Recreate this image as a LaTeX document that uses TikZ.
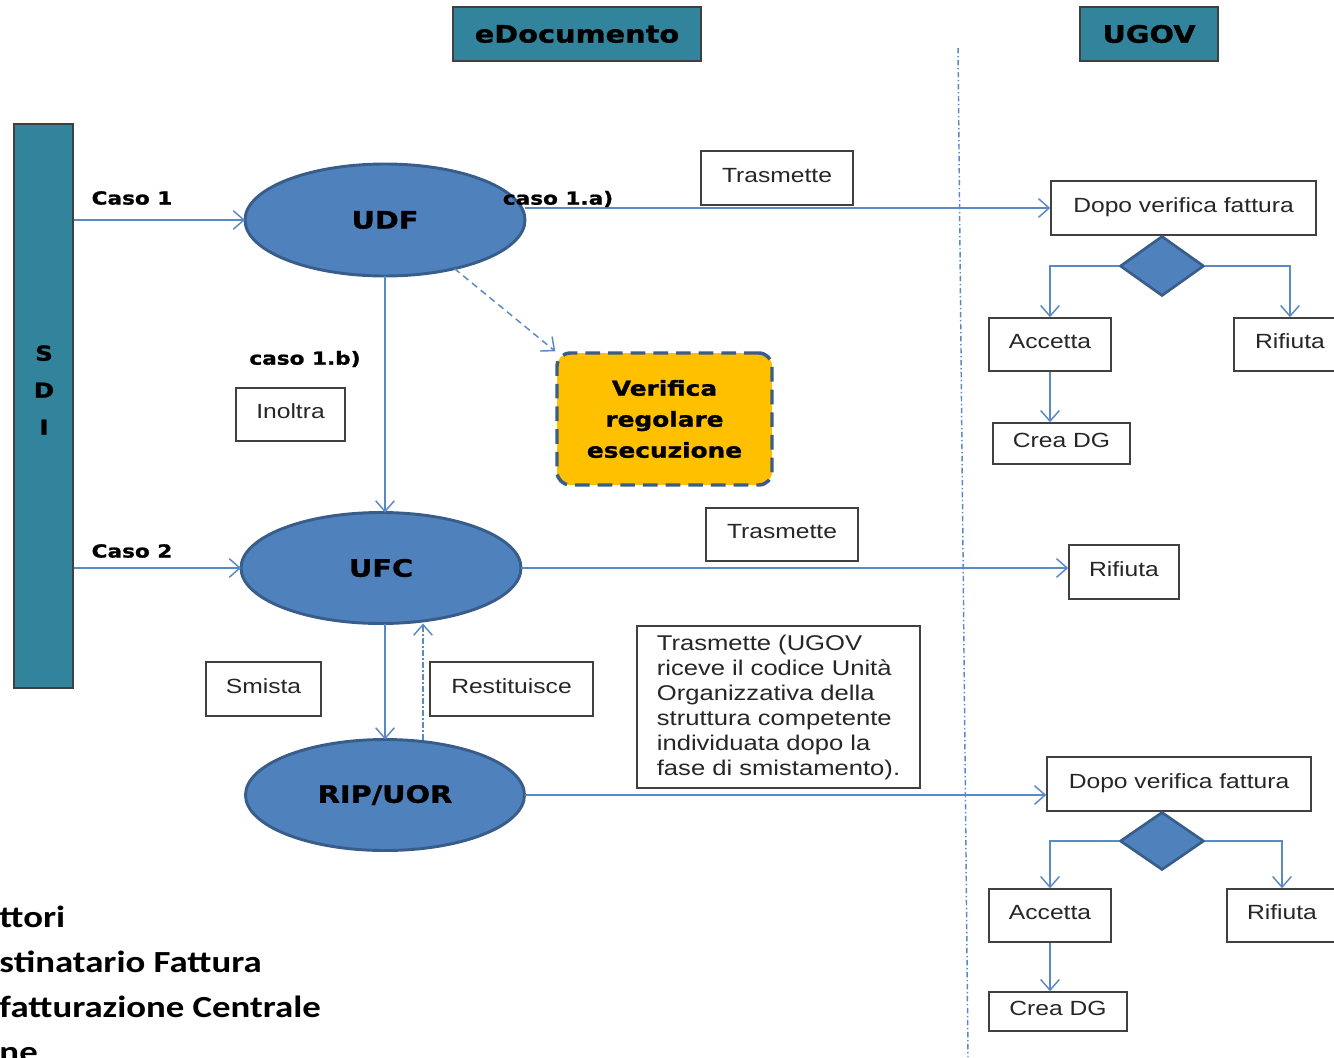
\documentclass[tikz,border=0pt]{standalone}
\usepackage{fontspec}
\setmainfont{Liberation Sans}[FakeStretch=1.2]
\newfontfamily\heavyfont{DejaVu Sans}[FakeStretch=1.2, BoldFeatures={FakeBold=1.2}]
\newfontfamily\legendfont{Carlito}[FakeStretch=1.2]
\usetikzlibrary{arrows.meta,shapes.geometric}

\definecolor{tealbar}{HTML}{31849B}
\definecolor{ovalfill}{HTML}{4F81BD}
\definecolor{ovalline}{HTML}{385D8A}
\definecolor{flowblue}{HTML}{5A8AC6}
\definecolor{boxline}{HTML}{404040}
\definecolor{checkfill}{HTML}{FFC000}

\tikzset{every picture/.style={line width=0.75pt}}
\tikzset{
  headbox/.style={draw=boxline, fill=tealbar, line width=1.1pt, inner sep=0pt, font=\heavyfont\bfseries\fontsize{18}{22}\selectfont},
  oval/.style={ellipse, draw=ovalline, fill=ovalfill, line width=2.2pt, inner sep=0pt, outer sep=0pt, font=\heavyfont\bfseries\fontsize{18}{22}\selectfont},
  caselabel/.style={inner sep=0pt, font=\heavyfont\bfseries\fontsize{13.5}{16}\selectfont},
  textbox/.style={draw=boxline, fill=white, line width=1.1pt, inner sep=0pt, text=black!85, font=\fontsize{15.4}{18}\selectfont},
  labelbox/.style={textbox, text height=11pt, text depth=5pt},
  choice/.style={diamond, draw=ovalline, fill=ovalfill, line width=2pt, inner sep=0pt},
  checkbox/.style={draw=ovalline, fill=checkfill, line width=2.6pt, dash pattern=on 11pt off 6pt, rounded corners=10pt, inner sep=0pt, align=center, font=\heavyfont\bfseries\fontsize{15.5}{23.25}\selectfont},
  legendline/.style={anchor=base west, inner sep=0pt, font=\legendfont\bfseries\fontsize{23}{27}\selectfont},
  flow/.style={draw=flowblue, line width=1.1pt, -{Straight Barb[length=8pt,width=14pt]}},
  flowdash/.style={flow, dash pattern=on 5pt off 3.5pt},
  flowdashdot/.style={flow, dash pattern=on 4pt off 2pt on 1pt off 2pt},
}

\begin{document}
\begin{tikzpicture}[x=0.75pt,y=0.75pt,yscale=-1,xscale=1]
        \useasboundingbox (0,0) rectangle (1334,1057);
        \clip (0,0) rectangle (1334,1057);

        %Shape: Rectangle [headers]
        \draw (577,34) node [headbox, minimum width=186pt, minimum height=40.5pt] (edoc) {eDocumento};
        \draw (1149,34) node [headbox, minimum width=103.5pt, minimum height=40.5pt] (ugov) {UGOV};

        %Straight Lines [divider]
        \draw [flowblue, line width=1.1pt, dash pattern=on 4pt off 2pt on 1pt off 2pt] (958,48) -- (968,1057);

        %Shape: Rectangle [SDI bar]
        \draw (43.5,406) node [draw=boxline, fill=tealbar, line width=1.1pt, minimum width=44.25pt, minimum height=423pt] (sdi) {};
        % Text Node
        \draw (44,390) node [align=center, inner sep=0pt, font=\heavyfont\bfseries\fontsize{15.4}{27.75}\selectfont] (sdilabel) {S\\D\\I};

        %Shape: Ellipse
        \draw (385,220) node [oval, minimum width=210pt, minimum height=84pt] (udf) {UDF};
        \draw (381,568) node [oval, minimum width=210pt, minimum height=83.25pt] (ufc) {UFC};
        \draw (385,795) node [oval, minimum width=209.25pt, minimum height=83.25pt] (rip) {RIP/UOR};

        %Shape: Rounded Rect
        \draw (664.5,419) node [checkbox, minimum width=161.25pt, minimum height=99pt] (verifica) {Verifica\\regolare\\esecuzione};

        %Shape: Rectangle [label boxes]
        \draw (777,178) node [labelbox, minimum width=114pt, minimum height=40.5pt] (trasm1) {Trasmette};
        \draw (290.5,414.5) node [labelbox, minimum width=81.75pt, minimum height=39.75pt] (inoltra) {Inoltra};
        \draw (782,534.5) node [labelbox, minimum width=114pt, minimum height=39.75pt] (trasm2) {Trasmette};
        \draw (263.5,689) node [labelbox, minimum width=86.25pt, minimum height=40.5pt] (smista) {Smista};
        \draw (511.5,689) node [labelbox, minimum width=122.25pt, minimum height=40.5pt] (restit) {Restituisce};
        \draw (778.5,707) node [textbox, minimum width=212.25pt, minimum height=121.5pt, align=left, font=\fontsize{16}{18.75}\selectfont] (notebox) {Trasmette (UGOV\\riceve il codice Unità\\Organizzativa della\\struttura competente\\individuata dopo la\\fase di smistamento).};

        %Shape: Rectangle [UGOV, caso 1.a]
        \draw (1183.5,208) node [labelbox, minimum width=198.75pt, minimum height=40.5pt] (dopo1) {Dopo verifica fattura};
        \draw (1162,266) node [choice, minimum width=63pt, minimum height=45pt] (dia1) {};
        \draw (1050,344.5) node [labelbox, minimum width=91.5pt, minimum height=39.75pt] (acc1) {Accetta};
        \draw (1290,344.5) node [labelbox, minimum width=84pt, minimum height=39.75pt] (rif1) {Rifiuta};
        \draw (1061.5,443.5) node [labelbox, minimum width=102.75pt, minimum height=30.75pt] (crea1) {Crea DG};

        %Shape: Rectangle [UGOV, caso 2]
        \draw (1124,572) node [labelbox, minimum width=82.5pt, minimum height=40.5pt] (rifc) {Rifiuta};

        %Shape: Rectangle [UGOV, RIP/UOR]
        \draw (1179,784) node [labelbox, minimum width=198pt, minimum height=40.5pt] (dopo2) {Dopo verifica fattura};
        \draw (1162,841) node [choice, minimum width=63pt, minimum height=43.5pt] (dia2) {};
        \draw (1050,915.5) node [labelbox, minimum width=91.5pt, minimum height=39.75pt] (acc2) {Accetta};
        \draw (1282,915.5) node [labelbox, minimum width=82.5pt, minimum height=39.75pt] (rif2) {Rifiuta};
        \draw (1058,1011.5) node [labelbox, minimum width=103.5pt, minimum height=29.25pt] (crea2) {Crea DG};

        %Straight Lines [flows]
        \draw [flow] (sdi.east |- udf) -- (udf.west);
        \draw [flow] (sdi.east |- ufc) -- (ufc.west);
        \draw [flow] (udf.east |- dopo1.west) -- (dopo1.west);
        \draw [flow] (udf.south) -- (udf.south |- ufc.north);
        \draw [flowdash] (udf.-35) -- (verifica.north west);
        \draw [flow] (ufc.east) -- (ufc.east -| rifc.west);
        \draw [flow] (rip.north |- ufc.south) -- (rip.north);
        \draw [flowdashdot] ([xshift=28.5pt]rip.north) -- ([xshift=28.5pt]rip.north |- ufc.south);
        \draw [flow] (rip.east) -- (rip.east -| dopo2.west);

        %Straight Lines [decisions]
        \draw [flow] (dia1.west) -| (acc1.north);
        \draw [flow] (dia1.east) -| (rif1.north);
        \draw [flow] (acc1.south) -- (acc1.south |- crea1.north);
        \draw [flow] (dia2.west) -| (acc2.north);
        \draw [flow] (dia2.east) -| (rif2.north);
        \draw [flow] (acc2.south) -- (acc2.south |- crea2.north);

        % Text Node
        \draw (132,198) node [caselabel] (caso1) {Caso 1};
        % Text Node
        \draw (132,551) node [caselabel] (caso2) {Caso 2};
        % Text Node
        \draw (558,199) node [caselabel] (caso1a) {caso 1.a)};
        % Text Node
        \draw (305,359) node [caselabel] (caso1b) {caso 1.b)};

        % Text Node [legend]
        \draw (-1,927) node [legendline] (legend1) {ttori};
        \draw (-1,972) node [legendline] (legend2) {stinatario Fattura};
        \draw (-1,1017) node [legendline] (legend3) {fatturazione Centrale};
        \draw (-1,1062) node [legendline] (legend4) {ne};

\end{tikzpicture}
\end{document}
